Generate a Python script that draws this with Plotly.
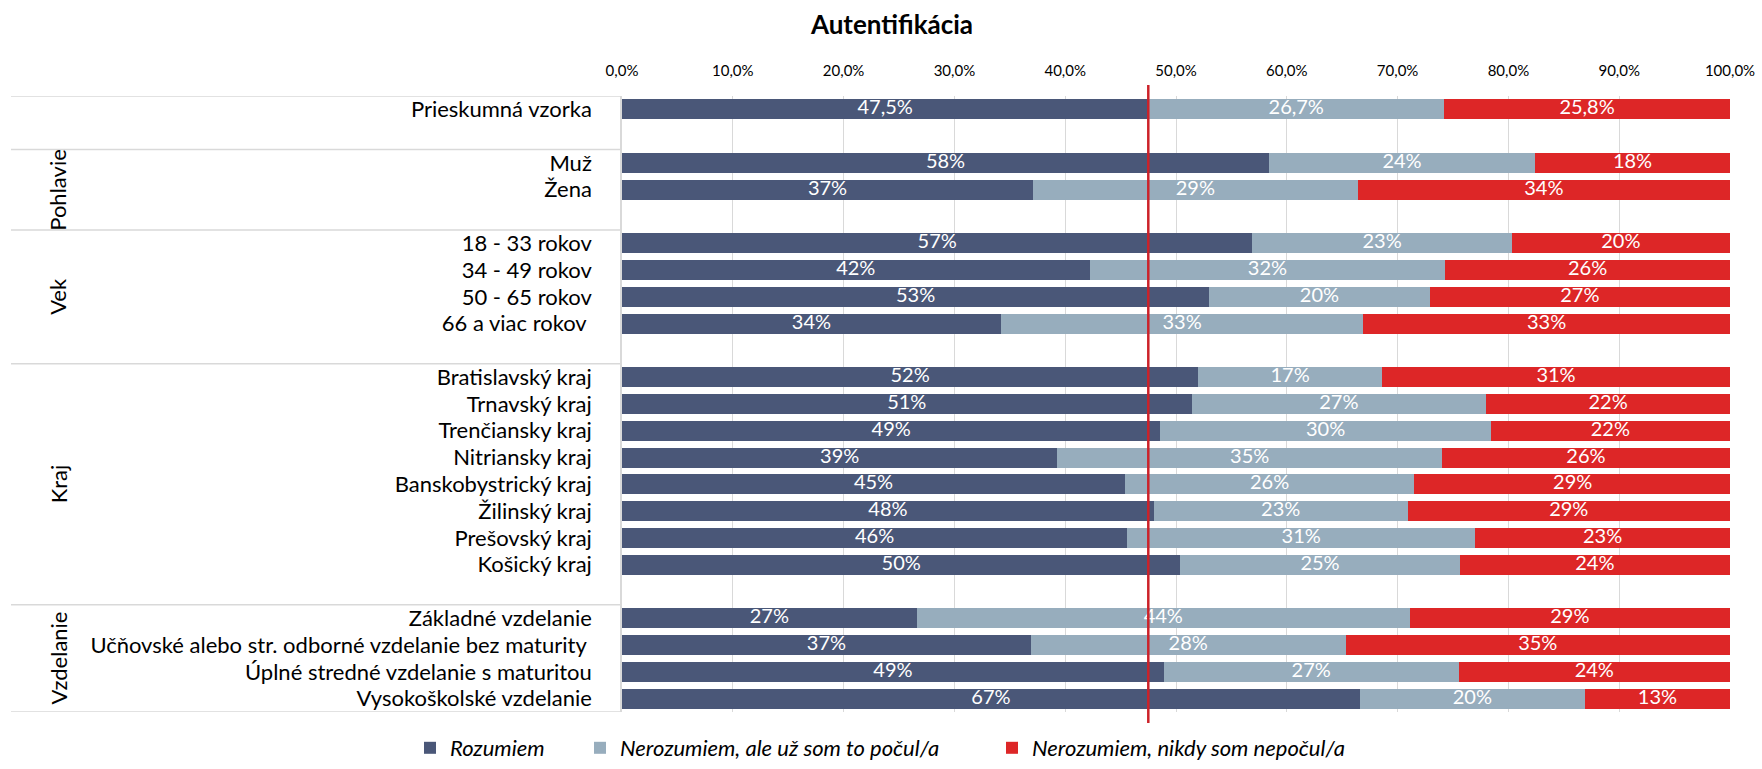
import plotly.graph_objects as go

# ---------------- data ----------------
title_text = "Autentifikácia"
series_names = ["Rozumiem", "Nerozumiem, ale už som to počul/a", "Nerozumiem, nikdy som nepočul/a"]

group_names = ["", "Pohlavie", "Vek", "Kraj", "Vzdelanie"]
group_items = [
    ["Prieskumná vzorka"],
    ["Muž", "Žena"],
    ["18 - 33 rokov", "34 - 49 rokov", "50 - 65 rokov", "66 a viac rokov "],
    ["Bratislavský kraj", "Trnavský kraj", "Trenčiansky kraj", "Nitriansky kraj",
     "Banskobystrický kraj", "Žilinský kraj", "Prešovský kraj", "Košický kraj"],
    ["Základné vzdelanie", "Učňovské alebo str. odborné vzdelanie bez maturity ",
     "Úplné stredné vzdelanie s maturitou", "Vysokoškolské vzdelanie"],
]

rozumiem = [47.5,
            58.4, 37.1,
            56.9, 42.2, 53.0, 34.2,
            52.0, 51.4, 48.6, 39.3, 45.4, 48.0, 45.6, 50.4,
            26.6, 36.9, 48.9, 66.6]
pocul = [26.7,
         24.0, 29.3,
         23.4, 32.1, 19.9, 32.7,
         16.6, 26.6, 29.8, 34.7, 26.1, 22.9, 31.4, 25.2,
         44.5, 28.4, 26.6, 20.3]
nepocul = [25.8,
           17.6, 33.6,
           19.7, 25.7, 27.1, 33.1,
           31.4, 22.0, 21.6, 26.0, 28.6, 29.1, 23.0, 24.4,
           28.9, 34.7, 24.5, 13.1]

x_ticks = [0, 10, 20, 30, 40, 50, 60, 70, 80, 90, 100]
x_tick_labels = ["0,0%", "10,0%", "20,0%", "30,0%", "40,0%", "50,0%",
                 "60,0%", "70,0%", "80,0%", "90,0%", "100,0%"]

# ---------------- layout helpers ----------------
W, H = 1762, 769
ML, MR, MT, MB = 622, 32, 96, 57
PW = W - ML - MR
FONT = "Lato, 'Liberation Sans', sans-serif"
C_DARK, C_LIGHT, C_RED = "#4a5778", "#97adbd", "#dd2627"
GRID = "#d9d9d9"


def px_to_paper(px):
    return (px - ML) / PW


# compute row positions (blank row after every group except the last)
labels, positions, boundaries, group_centers = [], [], [-0.5], []
row = 0
for gi, items in enumerate(group_items):
    start = row
    for it in items:
        labels.append(it)
        positions.append(row)
        row += 1
    if gi < len(group_items) - 1:
        row += 1
    end = row - 0.5
    boundaries.append(end)
    group_centers.append((start - 0.5 + end) / 2)
n_rows = row


def fmt(v, dec):
    return (f"{v:.{dec}f}").replace(".", ",") + "%"


def texts(vals):
    return [fmt(v, 1 if i == 0 else 0) for i, v in enumerate(vals)]


fig = go.Figure()
series = [rozumiem, pocul, nepocul]
for name, vals, col, lg in zip(series_names, series,
                               [C_DARK, C_LIGHT, C_RED], ["legend", "legend2", "legend3"]):
    fig.add_trace(go.Bar(
        y=positions, x=vals, orientation="h", name=f"<i>{name}</i>",
        marker=dict(color=col, line=dict(width=0)), width=0.75,
        legend=lg, hoverinfo="x+name",
    ))

# data labels, centred in each stacked segment
base = [0.0] * len(rozumiem)
for vals in series:
    mids = [b + v / 2 for b, v in zip(base, vals)]
    fig.add_trace(go.Scatter(
        x=mids, y=positions, mode="text", text=texts(vals),
        textposition="middle center",
        textfont=dict(color="white", size=20, family=FONT),
        showlegend=False, hoverinfo="skip", cliponaxis=False,
    ))
    base = [b + v for b, v in zip(base, vals)]

shapes = []
# group divider lines in the label area
for b in boundaries:
    shapes.append(dict(type="line", xref="paper", yref="y",
                       x0=px_to_paper(11), x1=0, y0=b, y1=b,
                       line=dict(color=GRID, width=1.5), layer="below"))
# reference line at the sample value
shapes.append(dict(type="line", xref="x", yref="paper", x0=rozumiem[0], x1=rozumiem[0],
                   y0=-0.018, y1=1.018, line=dict(color="#cc2229", width=2.5)))

annotations = []
for gname, gc in zip(group_names, group_centers):
    if gname:
        annotations.append(dict(text=gname, xref="paper", yref="y",
                                x=px_to_paper(58), y=gc, textangle=-90, showarrow=False,
                                xanchor="center", yanchor="middle",
                                font=dict(size=22, family=FONT, color="#000")))

legend_common = dict(orientation="h", xref="container", yref="container",
                     yanchor="bottom", xanchor="left", y=-0.008,
                     font=dict(size=22, family=FONT, color="#000"),
                     bgcolor="rgba(0,0,0,0)", borderwidth=0,
                     itemclick=False, itemdoubleclick=False)

fig.update_layout(
    width=W, height=H,
    margin=dict(l=ML, r=MR, t=MT, b=MB),
    paper_bgcolor="white", plot_bgcolor="white",
    barmode="stack", bargap=0.25,
    title=dict(text=f"<b>{title_text}</b>", x=892 / W, xanchor="center",
               y=1 - 25 / H, yanchor="middle",
               font=dict(size=26, family=FONT, color="#000")),
    xaxis=dict(range=[0, 100], side="top", tickvals=x_ticks, ticktext=x_tick_labels,
               showgrid=True, gridcolor=GRID, gridwidth=1, zeroline=False, showline=False,
               ticks="", ticklabelstandoff=16, automargin=False, ticklabeloverflow="allow",
               tickfont=dict(size=15, family=FONT, color="#000"), fixedrange=True),
    yaxis=dict(range=[n_rows - 0.5, -0.5], tickvals=positions, ticktext=labels,
               showgrid=False, zeroline=False, showline=True, linecolor=GRID, linewidth=1.5,
               ticks="", ticklabelstandoff=24, automargin=False,
               tickfont=dict(size=22, family=FONT, color="#000"), fixedrange=True),
    shapes=shapes, annotations=annotations,
    showlegend=True,
    legend=dict(x=410 / W, **legend_common),
    legend2=dict(x=580 / W, **legend_common),
    legend3=dict(x=992 / W, **legend_common),
)

# remove the page's default body margin so the figure fills the window exactly
fig.write_html("out.html", config={"displayModeBar": False},
               post_script="document.body.style.margin='0';document.body.style.overflow='hidden';")
